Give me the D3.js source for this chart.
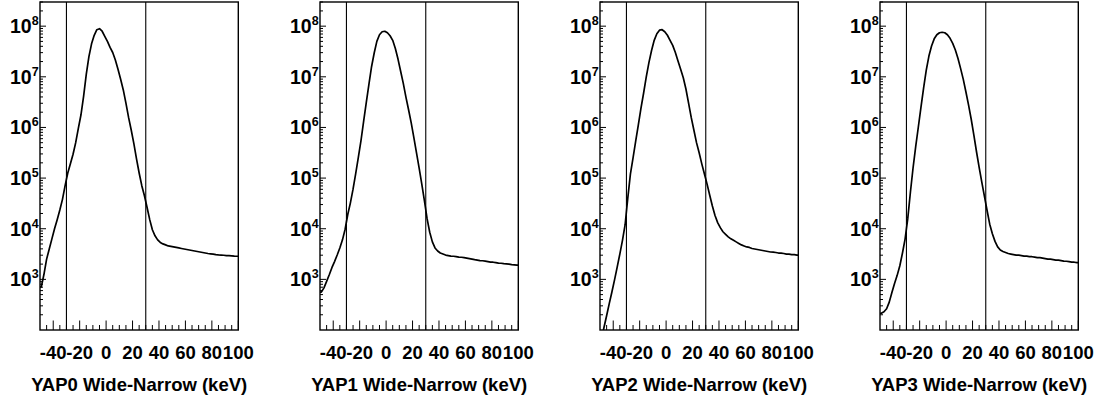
<!DOCTYPE html>
<html>
<head>
<meta charset="utf-8">
<script src="https://cdn.jsdelivr.net/npm/d3@7"></script>
<style>
  body { margin: 0; background: #fff; }
  svg { display: block; }
  text { font-family: "Liberation Sans", Arial, Helvetica, sans-serif; font-weight: bold; fill: #000; }
</style>
</head>
<body>
<svg id="chart" width="1102" height="403"></svg>
<script>
// histogram bins: 2 keV wide, from -50 to 100 keV
var binStart = -50, binWidth = 2;

var panelTitles = [ 'YAP0 Wide-Narrow (keV)', 'YAP1 Wide-Narrow (keV)', 'YAP2 Wide-Narrow (keV)', 'YAP3 Wide-Narrow (keV)' ];

// cut lines (keV)
var cutLines = [ -30, 30 ];

var xTicks = [ -40, -20, 0, 20, 40, 60, 80, 100 ];
var yTicks = [ 1e3, 1e4, 1e5, 1e6, 1e7, 1e8 ];
var yExp = [ '3', '4', '5', '6', '7', '8' ];

// counts per bin
var yap0 = [ 710, 1260, 2510, 3980, 6310, 10000, 15100, 23400, 38000, 70800,
	126000, 191000, 295000, 501000, 955000, 1.78e6, 4.17e6, 1.12e7, 2.51e7, 4.47e7,
	6.61e7, 8.51e7, 8.91e7, 7.94e7, 6.31e7, 5.01e7, 3.80e7, 3.02e7, 2.14e7, 1.41e7,
	8.91e6, 5.50e6, 3.02e6, 1.58e6, 8.91e5, 4.79e5, 2.40e5, 1.26e5, 7.08e4, 4.47e4,
	2.63e4, 1.51e4, 9550, 7240, 6030, 5370, 5010, 4790, 4570, 4470,
	4370, 4270, 4170, 4070, 3980, 3890, 3800, 3720, 3630, 3550,
	3470, 3390, 3310, 3240, 3200, 3160, 3090, 3050, 3020, 2990,
	2950, 2940, 2920, 2880, 2860 ];

var yap1 = [ 560, 680, 910, 1230, 1700, 2240, 3020, 4170, 6030, 9770,
	1.91e4, 3.24e4, 6.03e4, 1.23e5, 2.57e5, 5.50e5, 1.32e6, 3.09e6, 7.08e6, 1.58e7,
	2.95e7, 5.01e7, 6.76e7, 7.76e7, 7.94e7, 7.41e7, 6.46e7, 5.25e7, 3.63e7, 2.24e7,
	1.29e7, 7.41e6, 3.98e6, 2.24e6, 1.23e6, 6.31e5, 3.16e5, 1.58e5, 7.59e4, 3.55e4,
	1.58e4, 8510, 5500, 4170, 3630, 3310, 3160, 3020, 2950, 2880,
	2860, 2820, 2750, 2730, 2690, 2630, 2570, 2510, 2450, 2400,
	2340, 2330, 2290, 2240, 2190, 2180, 2140, 2090, 2080, 2040,
	2030, 2000, 1950, 1940, 1910 ];

var yap2 = [ 63, 112, 191, 331, 562, 977, 1740, 3160, 5890, 1.20e4,
	3.98e4, 1.20e5, 2.51e5, 5.37e5, 1.12e6, 2.40e6, 4.79e6, 1.0e7, 1.91e7, 3.31e7,
	5.25e7, 7.08e7, 8.32e7, 8.51e7, 7.76e7, 6.61e7, 5.25e7, 4.17e7, 3.02e7, 2.04e7,
	1.41e7, 9.55e6, 5.75e6, 3.02e6, 1.58e6, 8.91e5, 5.01e5, 3.16e5, 1.91e5, 1.20e5,
	7.59e4, 4.57e4, 2.82e4, 1.82e4, 1.32e4, 1.05e4, 8710, 7760, 6920, 6310,
	5890, 5500, 5130, 4790, 4570, 4370, 4270, 4070, 3980, 3890,
	3800, 3720, 3630, 3550, 3470, 3450, 3390, 3310, 3300, 3240,
	3160, 3150, 3090, 3080, 3020 ];

var yap3 = [ 214, 229, 263, 355, 550, 832, 1200, 1860, 3310, 6310,
	1.58e4, 5.25e4, 1.58e5, 4.17e5, 1.02e6, 2.51e6, 6.03e6, 1.35e7, 2.57e7, 4.07e7,
	5.62e7, 6.76e7, 7.41e7, 7.59e7, 7.41e7, 6.76e7, 5.75e7, 4.57e7, 3.39e7, 2.29e7,
	1.45e7, 8.91e6, 5.01e6, 2.75e6, 1.45e6, 7.08e5, 3.31e5, 1.62e5, 8.32e4, 4.37e4,
	2.29e4, 1.23e4, 7940, 5620, 4370, 3800, 3550, 3390, 3240, 3160,
	3090, 3020, 3000, 2950, 2880, 2870, 2820, 2800, 2750, 2690,
	2680, 2630, 2570, 2510, 2500, 2450, 2400, 2390, 2340, 2290,
	2280, 2240, 2190, 2180, 2140 ];

var series = [ yap0, yap1, yap2, yap3 ];

// layout
var panelStep = 280,
	frameLeft = 40,
	frameTop = 2,
	plotW = 198.3,
	plotH = 328;

var svg = d3.select( '#chart' );

var x = d3.scaleLinear().domain( [ -50, 100 ] ).range( [ 0, plotW ] );
var y = d3.scaleLog().domain( [ 100, 3e8 ] ).range( [ plotH, 0 ] );

var line = d3.line()
	.x( function( _d ) { return x( _d[ 0 ] ); } )
	.y( function( _d ) { return y( _d[ 1 ] ); } );

series.forEach( function( _vals, _i ) {
	var g = svg.append( 'g' )
		.attr( 'transform', 'translate(' + ( frameLeft + _i * panelStep ) + ',' + frameTop + ')' );

	var clipId = 'clip' + _i;
	g.append( 'clipPath' ).attr( 'id', clipId )
		.append( 'rect' ).attr( 'width', plotW ).attr( 'height', plotH );

	// points at bin centres, held flat out to the frame at both ends
	var pts = _vals.map( function( _v, _k ) {
		return [ binStart + ( _k + 0.5 ) * binWidth, _v ];
	} );
	pts.unshift( [ binStart, _vals[ 0 ] ] );
	pts.push( [ binStart + _vals.length * binWidth, _vals[ _vals.length - 1 ] ] );

	g.append( 'path' )
		.attr( 'clip-path', 'url(#' + clipId + ')' )
		.attr( 'd', line( pts ) )
		.attr( 'fill', 'none' )
		.attr( 'stroke', '#000' )
		.attr( 'stroke-width', 1.7 )
		.attr( 'stroke-linejoin', 'round' );

	// cut lines
	g.selectAll( 'line.cut' )
		.data( cutLines )
		.enter().append( 'line' )
		.attr( 'class', 'cut' )
		.attr( 'x1', function( _d ) { return x( _d ); } )
		.attr( 'x2', function( _d ) { return x( _d ); } )
		.attr( 'y1', 0 )
		.attr( 'y2', plotH )
		.attr( 'stroke', '#000' )
		.attr( 'stroke-width', 1.1 );

	// x ticks: majors every 20, minors every 5
	var xMinor = d3.range( -45, 100, 5 ).filter( function( _t ) { return _t % 20 !== 0; } );
	g.selectAll( 'line.xminor' )
		.data( xMinor )
		.enter().append( 'line' )
		.attr( 'x1', function( _d ) { return x( _d ); } )
		.attr( 'x2', function( _d ) { return x( _d ); } )
		.attr( 'y1', plotH )
		.attr( 'y2', plotH - 5 )
		.attr( 'stroke', '#000' )
		.attr( 'stroke-width', 1 );
	g.selectAll( 'line.xmajor' )
		.data( xTicks )
		.enter().append( 'line' )
		.attr( 'x1', function( _d ) { return x( _d ); } )
		.attr( 'x2', function( _d ) { return x( _d ); } )
		.attr( 'y1', plotH )
		.attr( 'y2', plotH - 9.5 )
		.attr( 'stroke', '#000' )
		.attr( 'stroke-width', 1 );

	// y ticks: decades plus 2..9
	var yMinor = [];
	[ 100, 1e3, 1e4, 1e5, 1e6, 1e7, 1e8 ].forEach( function( _dec ) {
		for ( var m = 2; m <= 9; m++ ) {
			if ( _dec * m <= 3e8 ) yMinor.push( _dec * m );
		}
	} );
	g.selectAll( 'line.yminor' )
		.data( yMinor )
		.enter().append( 'line' )
		.attr( 'x1', 0 )
		.attr( 'x2', 3 )
		.attr( 'y1', function( _d ) { return y( _d ); } )
		.attr( 'y2', function( _d ) { return y( _d ); } )
		.attr( 'stroke', '#000' )
		.attr( 'stroke-width', 1 );
	g.selectAll( 'line.ymajor' )
		.data( yTicks )
		.enter().append( 'line' )
		.attr( 'x1', 0 )
		.attr( 'x2', 6 )
		.attr( 'y1', function( _d ) { return y( _d ); } )
		.attr( 'y2', function( _d ) { return y( _d ); } )
		.attr( 'stroke', '#000' )
		.attr( 'stroke-width', 1 );

	// frame
	g.append( 'rect' )
		.attr( 'width', plotW )
		.attr( 'height', plotH )
		.attr( 'fill', 'none' )
		.attr( 'stroke', '#000' )
		.attr( 'stroke-width', 1.4 );

	// x labels
	g.selectAll( 'text.xlab' )
		.data( xTicks )
		.enter().append( 'text' )
		.attr( 'x', function( _d ) { return x( _d ); } )
		.attr( 'y', 359 - frameTop )
		.attr( 'text-anchor', 'middle' )
		.style( 'font-size', '18.5px' )
		.text( function( _d ) { return _d; } );

	// y labels, 10 with exponent
	var yl = g.selectAll( 'text.ylab' )
		.data( yTicks )
		.enter().append( 'text' )
		.attr( 'x', -30 )
		.attr( 'y', function( _d ) { return y( _d ) + 7; } )
		.style( 'font-size', '19.5px' );
	yl.append( 'tspan' ).text( '10' );
	yl.append( 'tspan' )
		.attr( 'dy', -8 )
		.style( 'font-size', '12.5px' )
		.text( function( _d, _k ) { return yExp[ _k ]; } );

	// axis title
	g.append( 'text' )
		.attr( 'x', plotW / 2 )
		.attr( 'y', 391 - frameTop )
		.attr( 'text-anchor', 'middle' )
		.style( 'font-size', '18.5px' )
		.text( panelTitles[ _i ] );
} );
</script>
</body>
</html>
